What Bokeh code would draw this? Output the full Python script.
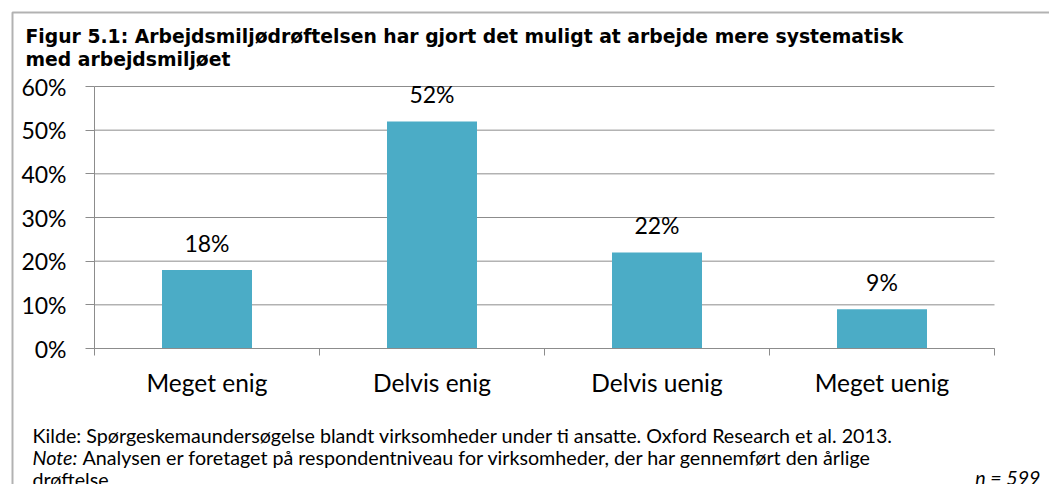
import numpy as np
from bokeh.plotting import figure
from bokeh.models import (ColumnDataSource, FixedTicker, PrintfTickFormatter,
                          LabelSet, Label, BoxAnnotation, Range1d)
from bokeh.core.properties import value
from bokeh.embed import file_html
from bokeh.resources import INLINE

# ---- data ----
categories = ["Meget enig", "Delvis enig", "Delvis uenig", "Meget uenig"]
values = [18, 52, 22, 9]
y_ticks = [0, 10, 20, 30, 40, 50, 60]
title_lines = ["Figur 5.1: Arbejdsmiljødrøftelsen har gjort det muligt at arbejde mere systematisk",
               "med arbejdsmiljøet"]
source_text = "Kilde: Spørgeskemaundersøgelse blandt virksomheder under ti ansatte. Oxford Research et al. 2013."
note_label = "Note:"
note_text = "Analysen er foretaget på respondentniveau for virksomheder, der har gennemført den årlige"
note_text2 = "drøftelse"
n_text = "n = 599"

# ---- layout (pixels) ----
W, H = 1049, 484
PL, PR, PT, PB = 94, 994, 86, 348      # plotting area inside the canvas
BAR = "#4BACC6"
GRID = "#8c8c8c"
SANS = "Lato"
TITLE_FONT = "DejaVu Sans"

n = len(categories)
ymax = y_ticks[-1]
xpx = (PR - PL) / n
ypx = (PB - PT) / ymax
x_range = Range1d(-PL / xpx, n + (W - PR) / xpx)
y_range = Range1d(-(H - PB) / ypx, ymax + PT / ypx)


def sy(py):
    # page y (from top) -> screen y (from bottom of frame)
    return H - py


xs = np.arange(n) + 0.5
labels = ["%d%%" % v for v in values]
src = ColumnDataSource(dict(x=xs, top=values, lab=labels))

p = figure(width=W, height=H, output_backend="svg", toolbar_location=None,
           x_range=x_range, y_range=y_range, min_border=0)
p.outline_line_color = None
p.background_fill_color = "white"
p.border_fill_color = "white"
p.xgrid.grid_line_color = None
p.ygrid.grid_line_color = None

# horizontal gridlines across the plotting area
p.segment(x0=[0] * len(y_ticks), x1=[n] * len(y_ticks), y0=y_ticks, y1=y_ticks,
          line_color=GRID, line_width=1)

p.vbar(x="x", top="top", width=0.4, bottom=0, source=src, fill_color=BAR, line_color=None)

# y axis
yax = p.yaxis[0]
yax.fixed_location = 0
yax.bounds = (0, ymax)
yax.ticker = FixedTicker(ticks=y_ticks, minor_ticks=[])
yax.formatter = PrintfTickFormatter(format="%d%%")
yax.axis_line_color = GRID
yax.major_tick_line_color = GRID
yax.major_tick_in = 0
yax.major_tick_out = 9
yax.minor_tick_line_color = None
yax.major_label_text_font = SANS
yax.major_label_text_font_size = "23px"
yax.major_label_text_color = "black"
yax.major_label_standoff = 19

# x axis
xax = p.xaxis[0]
xax.fixed_location = 0
xax.bounds = (0, n)
xax.ticker = FixedTicker(ticks=list(xs), minor_ticks=list(range(n + 1)))
xax.major_label_overrides = {float(x): c for x, c in zip(xs, categories)}
xax.axis_line_color = GRID
xax.major_tick_line_color = None
xax.major_tick_in = 0
xax.major_tick_out = 0
xax.minor_tick_line_color = GRID
xax.minor_tick_in = 0
xax.minor_tick_out = 7
xax.major_label_text_font = SANS
xax.major_label_text_font_size = "24.5px"
xax.major_label_text_color = "black"
xax.major_label_standoff = 12

# bar value labels
p.add_layout(LabelSet(x="x", y="top", text="lab", source=src, text_align="center",
                      text_baseline="alphabetic", y_offset=18,
                      text_font=value(SANS), text_font_size=value("23px"), text_color="black"))

# frame border (top + left)
p.add_layout(BoxAnnotation(left=12, right=W + 200, top=sy(12), bottom=-200,
                           left_units="screen", right_units="screen",
                           top_units="screen", bottom_units="screen",
                           fill_alpha=0, fill_color=None, line_color="black", line_width=2))

# titles
tstyle = dict(x_units="screen", y_units="screen", text_font=TITLE_FONT, text_font_style="bold",
              text_font_size="18.8px", text_baseline="alphabetic", text_color="black")
p.add_layout(Label(x=25, y=sy(36), text=title_lines[0], **tstyle))
p.add_layout(Label(x=25, y=sy(59), text=title_lines[1], **tstyle))

# footer
foot = dict(x_units="screen", y_units="screen", text_font=SANS, text_font_size="19.7px",
            text_baseline="alphabetic", text_color="black")
p.add_layout(Label(x=32, y=sy(435), text=source_text, **foot))
p.add_layout(Label(x=32, y=sy(457), text=note_label, text_font_style="italic", **foot))
p.add_layout(Label(x=82, y=sy(457), text=note_text, **foot))
p.add_layout(Label(x=32, y=sy(479), text=note_text2, **foot))
p.add_layout(Label(x=1040, y=sy(477), text=n_text, text_align="right",
                   text_font_style="italic", **foot))

open("out.html", "w").write(file_html(p, INLINE))
